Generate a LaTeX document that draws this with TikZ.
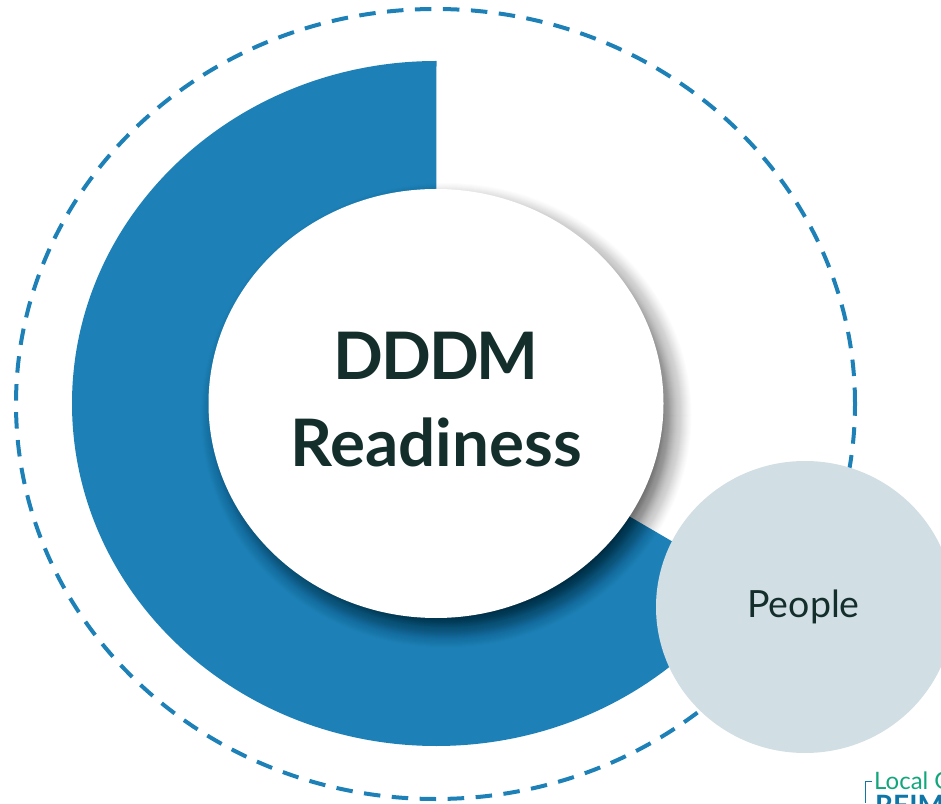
\documentclass[tikz,border=0pt]{standalone}
\usepackage{fontspec}
\setmainfont{Lato}
\usetikzlibrary{shapes.geometric}
\definecolor{ringblue}{HTML}{1D81B8}
\definecolor{inkdark}{HTML}{142E2C}
\definecolor{peoplefill}{HTML}{D1DEE4}
\definecolor{logogreen}{HTML}{12A67C}
\definecolor{logoblue}{HTML}{0F76A8}
\tikzset{
  hub/.style={ellipse,inner sep=0pt,fill=white,minimum width=455pt,minimum height=429pt},
  satellite/.style={ellipse,inner sep=0pt,fill=peoplefill,minimum width=298pt,minimum height=292pt},
  hubtext/.style={inner sep=0pt,align=center,text=inkdark,font=\fontsize{65.5}{87}\selectfont\bfseries},
  sattext/.style={inner sep=0pt,text=inkdark,font=\fontsize{37.5}{44}\selectfont},
  dashring/.style={draw=ringblue,line width=4pt,dash pattern=on 16.5pt off 11.5pt},
}
\begin{document}
\begin{tikzpicture}[x=1pt,y=1pt]
\useasboundingbox (0,0) rectangle (941,803);
\clip (0,0) rectangle (941,803);
\coordinate (c) at (436,399.5);
% dashed ring
\draw[dashring] (435.5,399) ellipse [x radius=419.5pt,y radius=395pt];
% blue wedge
\fill[ringblue] (c) -- (436.5,742) arc [start angle=90,end angle=328.1,x radius=364.5pt,y radius=342.5pt] -- cycle;
% shadow
\foreach \i in {-16,...,16}{
  \pgfmathsetmacro{\op}{0.010+0.030*(16-\i)/32}
  \fill[black,opacity=\op] (446,387.5) ellipse [x radius=229.5pt+\i*1pt,y radius=216.5pt+\i*1pt];
}
\node[hub] (hub) at (c) {};
\node[satellite] (people) at (805,196) {};
\node[hubtext] (hublabel) at (436,403) {{\addfontfeature{LetterSpace=-3}DDDM}\\Readiness};
\node[sattext] (peoplelabel) at (803.5,196) {People};
% logo fragment
\node[anchor=base west,inner sep=0pt,text=logogreen,font=\fontsize{24}{24}\selectfont] (loc) at (874,14) {Local Government};
\node[anchor=base west,inner sep=0pt,text=logoblue,font=\fontsize{28}{28}\selectfont\bfseries] (rei) at (875,-12) {REIMAGINED};
\draw[logoblue,line width=1pt] (872,21.5) -- (865.5,21.5) -- (865.5,0);
\end{tikzpicture}
\end{document}
